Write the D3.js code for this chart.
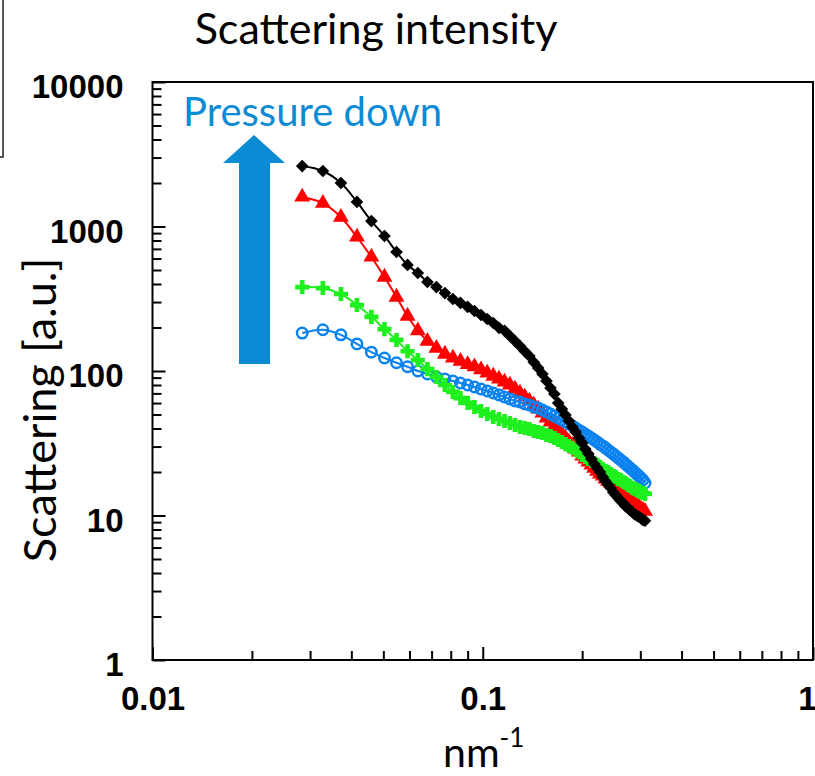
<!DOCTYPE html>
<html lang="en">
<head>
    <meta charset="UTF-8">
    <title>Scattering intensity</title>
    <script src="https://cdn.jsdelivr.net/npm/d3@7/dist/d3.min.js"></script>
    <style>
        body { margin: 0; background: #fff; }
        svg text { font-family: Lato, "Open Sans", sans-serif; fill: #000; }
        .axis text { font-family: "Liberation Sans", Arial, sans-serif; font-weight: bold; font-size: 33px; }
        .axis line { stroke: #000; stroke-width: 2; }
    </style>
</head>
<body>
<script type="application/javascript">

    let w = 815, h = 776;

    // scattering vector q [nm^-1], same grid for all four runs
    let qValues = [
        0.0284, 0.0328, 0.0372, 0.0416, 0.0460, 0.0504, 0.0548, 0.0592, 0.0636, 0.0680,
        0.0724, 0.0768, 0.0812, 0.0856, 0.0900, 0.0944, 0.0988, 0.1032, 0.1076, 0.1120,
        0.1164, 0.1208, 0.1252, 0.1296, 0.1340, 0.1384, 0.1428, 0.1472, 0.1516, 0.1560,
        0.1604, 0.1648, 0.1692, 0.1736, 0.1780, 0.1824, 0.1868, 0.1912, 0.1956, 0.2000,
        0.2044, 0.2088, 0.2132, 0.2176, 0.2220, 0.2264, 0.2308, 0.2352, 0.2396, 0.2440,
        0.2484, 0.2528, 0.2572, 0.2616, 0.2660, 0.2704, 0.2748, 0.2792, 0.2836, 0.2880,
        0.2924, 0.2968, 0.3012, 0.3056, 0.3100
    ];

    // intensities (a.u.)
    let blackDiamonds = [
        2620, 2420, 2000, 1480, 1090, 860, 666, 542, 477, 413,
        381, 346, 315, 296, 278, 260, 244, 229, 215, 199,
        190, 175, 161, 149, 137, 127, 115, 105, 95.3, 85.3,
        76.3, 69.3, 60.1, 54.6, 49.6, 45.1, 41.0, 37.8, 34.4, 31.8,
        28.9, 26.7, 24.6, 22.7, 21.3, 20.0, 18.5, 17.3, 16.3, 15.5,
        14.5, 13.8, 13.2, 12.6, 12.2, 11.6, 11.3, 10.9, 10.6, 10.2,
        10.0, 9.8, 9.6, 9.3, 9.2
    ];
    let redTriangles = [
        1600, 1450, 1160, 846, 615, 447, 325, 240, 190, 161,
        144, 131, 123, 117, 111, 107, 102, 96.9, 92.3, 88.0,
        83.9, 80.0, 75.1, 70.4, 66.1, 62.0, 58.2, 54.6, 51.2, 47.3,
        44.4, 41.6, 39.0, 36.6, 34.4, 32.3, 30.7, 28.9, 27.5, 25.8,
        24.6, 23.5, 22.4, 21.3, 20.3, 19.4, 18.8, 17.9, 17.3, 16.8,
        16.3, 15.5, 15.0, 14.5, 14.1, 13.6, 13.2, 12.8, 12.4, 12.0,
        11.6, 11.5, 11.1, 10.9, 10.7
    ];
    let greenCrosses = [
        381, 375, 341, 286, 237, 195, 164, 137, 119, 103,
        90.9, 80.0, 71.6, 65.0, 60.1, 56.3, 52.9, 50.4, 48.1, 46.6,
        45.1, 43.7, 42.3, 41.0, 40.3, 39.7, 38.4, 37.8, 37.2, 36.1,
        35.5, 34.4, 33.3, 32.3, 31.2, 30.3, 29.4, 28.4, 27.5, 26.2,
        25.4, 24.6, 23.8, 23.1, 22.4, 21.7, 21.0, 20.3, 20.0, 19.4,
        18.8, 18.5, 17.9, 17.6, 17.1, 16.8, 16.3, 16.0, 15.5, 15.3,
        15.0, 14.8, 14.5, 14.3, 14.1
    ];
    let blueCircles = [
        183, 193, 178, 154, 135, 123, 114, 107, 100, 95.3,
        90.9, 88.0, 85.3, 82.6, 80.0, 77.5, 75.1, 72.7, 70.4, 68.2,
        66.1, 64.0, 62.0, 61.0, 59.1, 58.2, 56.3, 55.4, 53.7, 52.1,
        50.4, 48.8, 47.3, 45.8, 44.4, 43.0, 41.6, 40.3, 39.0, 37.8,
        36.6, 35.5, 34.4, 33.3, 32.3, 31.2, 30.3, 29.4, 28.4, 27.5,
        26.7, 25.8, 25.0, 24.2, 23.5, 22.7, 22.0, 21.3, 20.7, 20.0,
        19.4, 18.8, 18.2, 17.6, 16.8
    ];

    let xMajor = [0.01, 0.1, 1];
    let xTickLabels = ["0.01", "0.1", "1"];
    let yMajor = [1, 10, 100, 1000, 10000];
    let yTickLabels = ["1", "10", "100", "1000", "10000"];

    // minor ticks 2..9 of every decade
    let xMinor = [], yMinor = [];
    xMajor.slice(0, -1).forEach(function(d) {
        for (let k = 2; k <= 9; k++) xMinor.push(d * k);
    });
    yMajor.slice(0, -1).forEach(function(d) {
        for (let k = 2; k <= 9; k++) yMinor.push(d * k);
    });

    let plotLeft = 152.5, plotRight = 813, plotTop = 82, plotBottom = 660;

    let xScale = d3.scaleLog().domain([0.01, 1]).range([plotLeft, plotRight]);
    let yScale = d3.scaleLog().domain([1, 10000]).range([plotBottom, plotTop]);

    let svg = d3.select("body")
        .append("svg")
        .attr("width", w)
        .attr("height", h);

    // corner of a box cut off at the top-left
    svg.append("path")
        .attr("d", "M0,157H3V0")
        .attr("fill", "none")
        .attr("stroke", "#222")
        .attr("stroke-width", 1.5);

    svg.append("text")
        .attr("x", 376)
        .attr("y", 44)
        .attr("text-anchor", "middle")
        .style("font-size", "43px")
        .text("Scattering intensity");

    // axes: minor ticks first, then the labelled decades
    let xAxisG = svg.append("g").attr("class", "axis").attr("transform", "translate(0," + plotBottom + ")");
    xAxisG.append("g").call(d3.axisBottom(xScale).tickValues(xMinor).tickSize(-9).tickFormat(""));
    xAxisG.append("g").call(d3.axisBottom(xScale).tickValues(xMajor).tickSize(-13).tickPadding(27)
        .tickFormat(function(d, i) { return xTickLabels[i]; }));
    // the last label sits at the window edge, keep it inside
    xAxisG.selectAll("text").filter(function(d) { return d === 1; })
        .attr("text-anchor", "end")
        .attr("x", 3);

    let yAxisG = svg.append("g").attr("class", "axis").attr("transform", "translate(" + plotLeft + ",0)");
    yAxisG.append("g").call(d3.axisLeft(yScale).tickValues(yMinor).tickSize(-9).tickFormat(""));
    yAxisG.append("g").call(d3.axisLeft(yScale).tickValues(yMajor).tickSize(-13).tickPadding(29)
        .tickFormat(function(d, i) { return yTickLabels[i]; }));
    yAxisG.selectAll("text").attr("dy", "0.47em");

    svg.selectAll(".axis .domain").remove();

    svg.append("rect")
        .attr("x", plotLeft)
        .attr("y", plotTop)
        .attr("width", plotRight - plotLeft)
        .attr("height", plotBottom - plotTop)
        .attr("fill", "none")
        .attr("stroke", "#000")
        .attr("stroke-width", 2);

    // axis titles
    svg.append("text")
        .attr("transform", "translate(56,410) rotate(-90)")
        .attr("text-anchor", "middle")
        .style("font-size", "45px")
        .text("Scattering [a.u.]");

    let xTitle = svg.append("text")
        .attr("x", 443)
        .attr("y", 767)
        .style("font-size", "41px");
    xTitle.append("tspan").text("nm");
    xTitle.append("tspan").attr("dy", -20).style("font-size", "26px").text("-1");

    // annotation
    svg.append("text")
        .attr("x", 183)
        .attr("y", 126)
        .style("font-size", "40px")
        .style("fill", "#0b8bd4")
        .text("Pressure down");

    svg.append("path")
        .attr("d", "M239,364V163H223L254,135L285,163H270V364Z")
        .attr("fill", "#0b8bd4");

    // series, drawn back to front
    let series = [
        { values: redTriangles, color: "#ff0000", symbol: d3.symbolTriangle, size: 110, open: false, rotate: 0 },
        { values: blueCircles, color: "#0a82f0", symbol: d3.symbolCircle, size: 85, open: true, rotate: 0 },
        { values: greenCrosses, color: "#1ef01e", symbol: d3.symbolCross, size: 110, open: false, rotate: 0 },
        { values: blackDiamonds, color: "#000000", symbol: d3.symbolSquare, size: 80, open: false, rotate: 45 }
    ];

    let line = d3.line()
        .x(function(d) { return xScale(d[0]); })
        .y(function(d) { return yScale(d[1]); })
        .curve(d3.curveCatmullRom);

    let groups = svg.selectAll("g.series")
        .data(series)
        .enter()
        .append("g")
        .attr("class", "series");

    groups.append("path")
        .attr("d", function(s) { return line(qValues.map(function(q, i) { return [q, s.values[i]]; })); })
        .attr("fill", "none")
        .attr("stroke", function(s) { return s.color; })
        .attr("stroke-width", 2);

    groups.each(function(s) {
        d3.select(this).selectAll("path.pt")
            .data(qValues.map(function(q, i) { return [q, s.values[i]]; }))
            .enter()
            .append("path")
            .attr("class", "pt")
            .attr("transform", function(d) {
                return "translate(" + xScale(d[0]) + "," + yScale(d[1]) + ") rotate(" + s.rotate + ")";
            })
            .attr("d", d3.symbol().type(s.symbol).size(s.size))
            .attr("fill", s.open ? "none" : s.color)
            .attr("stroke", s.color)
            .attr("stroke-width", s.open ? 2.5 : 0);
    });

</script>
</body>
</html>
